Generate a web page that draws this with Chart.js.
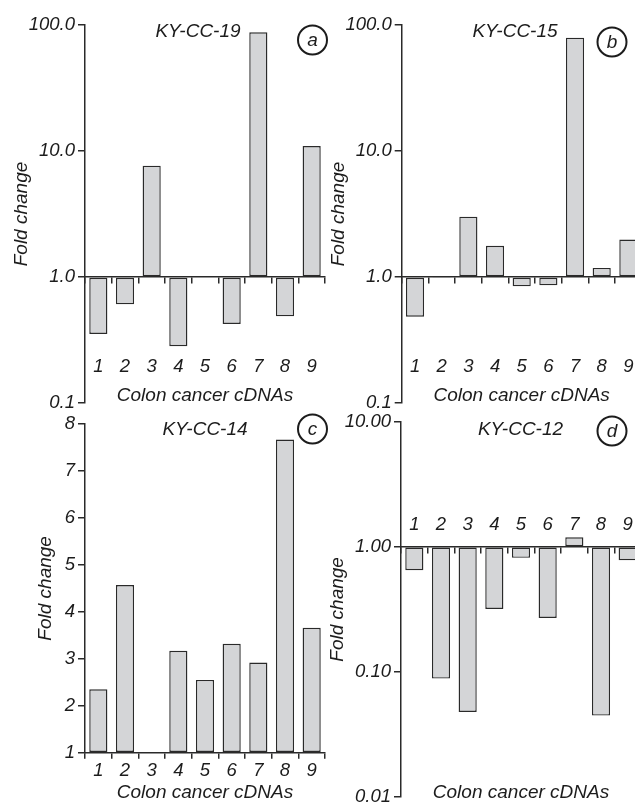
<!DOCTYPE html>
<html>
<head>
<meta charset="utf-8">
<title>Fold change in colon cancer cDNAs</title>
<script src="https://cdn.jsdelivr.net/npm/chart.js@4.4.1/dist/chart.umd.min.js"></script>
<style>
    html, body { margin: 0; padding: 0; overflow: hidden; background: #fff; }
    #wrap { position: relative; width: 635px; height: 803px; overflow: hidden; background: #fff; }
    #wrap canvas { position: absolute; }
</style>
</head>
<body>
<div id="wrap">
    <canvas id="chartA"></canvas>
    <canvas id="chartB"></canvas>
    <canvas id="chartC"></canvas>
    <canvas id="chartD"></canvas>
</div>
<script>
// ----------------- Data -----------------
const categories = ['1', '2', '3', '4', '5', '6', '7', '8', '9'];

const kyCC19 = [0.353, 0.607, 7.65, 0.282, 1.02, 0.424, 87.5, 0.487, 10.96];
const kyCC15 = [0.484, 0.99, 3.01, 1.77, 0.843, 0.859, 79.3, 1.18, 1.98];
const kyCC14 = [2.35, 4.57, null, 3.17, 2.55, 3.32, 2.92, 7.67, 3.66];
const kyCC12 = [0.65, 0.0885, 0.0478, 0.319, 0.817, 0.270, 1.19, 0.0448, 0.782];

const logTicksAB = [0.1, 1, 10, 100];
const linTicksC = [1, 2, 3, 4, 5, 6, 7, 8];
const logTicksD = [0.01, 0.1, 1, 10];

const xTitle = 'Colon cancer cDNAs';
const yTitle = 'Fold change';

// ----------------- Look -----------------
const FONT = '"Liberation Sans", Arial, sans-serif';
const INK = '#1c1c1c';
const LINE = '#2a2a2a';
const BAR_FILL = '#d4d5d7';

// draws the panel name and the circled letter inside the plot
const panelLabels = {
    id: 'panelLabels',
    afterDraw(chart, args, opts) {
        if (!opts || !opts.title) return;
        const ctx = chart.ctx;
        ctx.save();
        ctx.font = 'italic 19px ' + FONT;
        ctx.fillStyle = INK;
        ctx.strokeStyle = INK;
        ctx.textAlign = 'center';
        ctx.textBaseline = 'middle';
        ctx.fillText(opts.title, opts.titleX, opts.titleY);
        ctx.beginPath();
        ctx.lineWidth = 2;
        ctx.arc(opts.circleX, opts.circleY, 14.5, 0, Math.PI * 2);
        ctx.stroke();
        ctx.fillText(opts.letter, opts.circleX, opts.circleY + 1);
        ctx.restore();
    }
};

function makePanel(id, p) {
    const canvas = document.getElementById(id);
    canvas.width = p.box.width;
    canvas.height = p.box.height;
    canvas.style.left = p.box.left + 'px';
    canvas.style.top = p.box.top + 'px';

    const yWidth = p.area.left - p.box.left;
    const tickFont = { family: FONT, size: 18.5, style: 'italic' };
    const titleFont = { family: FONT, size: 19, style: 'italic' };

    const x = {
        type: 'category',
        offset: true,
        grid: { display: true, drawOnChartArea: false, drawTicks: true, tickLength: 6, color: LINE, lineWidth: 1.5, offset: true },
        border: { display: true, color: LINE, width: 1.5 },
        ticks: { color: INK, font: tickFont, padding: p.xLabelPad, maxRotation: 0, autoSkip: false },
        title: { display: true, text: xTitle, color: INK, font: titleFont, padding: { top: 0, bottom: p.xTitlePadBottom || 0 } }
    };
    // the label padding must not eat into the plot width
    const dropSidePadding = s => { s.paddingLeft = 0; s.paddingRight = 0; };
    if (p.xAt !== undefined) {
        // category axis drawn across the plot at y = 1
        x.position = { y: p.xAt };
        x.afterFit = s => { s.height = p.xHeight; dropSidePadding(s); };
    } else {
        x.position = 'bottom';
        x.afterFit = s => { s.height = p.box.top + p.box.height - p.area.bottom; dropSidePadding(s); };
    }

    const y = {
        type: p.logY ? 'logarithmic' : 'linear',
        min: p.yTicks[0],
        max: p.yTicks[p.yTicks.length - 1],
        position: 'left',
        grid: { display: true, drawOnChartArea: false, drawTicks: true, tickLength: 7, color: LINE, lineWidth: 1.5 },
        border: { display: true, color: LINE, width: 1.5 },
        ticks: {
            color: INK, font: tickFont, padding: 3,
            callback: v => p.yDigits ? Number(v).toFixed(p.yDigits) : String(v)
        },
        title: { display: true, text: yTitle, color: INK, font: titleFont, padding: { top: p.yTitlePad, bottom: 0 } },
        afterBuildTicks: s => { s.ticks = p.yTicks.map(v => ({ value: v })); },
        afterFit: s => { s.width = yWidth; }
    };

    const rel = (px, py) => [px - p.box.left, py - p.box.top];
    const [tx, ty] = rel(p.label.titleX, p.label.titleY);
    const [cx, cy] = rel(p.label.circleX, p.label.circleY);

    return new Chart(canvas.getContext('2d'), {
        type: 'bar',
        data: {
            labels: categories,
            datasets: [{
                label: p.label.title,
                data: p.values,
                base: 1,
                backgroundColor: BAR_FILL,
                borderColor: LINE,
                borderWidth: 1.4,
                borderSkipped: false,
                categoryPercentage: 1,
                barPercentage: 0.68
            }]
        },
        options: {
            responsive: false,
            animation: false,
            events: [],
            layout: {
                padding: {
                    left: 0,
                    top: p.area.top - p.box.top,
                    right: p.box.left + p.box.width - p.area.right,
                    bottom: p.xAt !== undefined ? p.box.top + p.box.height - p.area.bottom : 0
                }
            },
            plugins: {
                legend: { display: false },
                tooltip: { enabled: false },
                title: { display: false },
                panelLabels: { title: p.label.title, titleX: tx, titleY: ty, letter: p.label.letter, circleX: cx, circleY: cy }
            },
            scales: { x, y }
        },
        plugins: [panelLabels]
    });
}

// ----------------- Panels -----------------
makePanel('chartA', {
    box: { left: 0, top: 0, width: 330, height: 420 },
    area: { left: 85, top: 25, right: 325, bottom: 403 },
    values: kyCC19, yTicks: logTicksAB, logY: true, yDigits: 1,
    xAt: 1, xLabelPad: 73, xHeight: 130, yTitlePad: 10.6,
    label: { title: 'KY-CC-19', titleX: 198, titleY: 32, letter: 'a', circleX: 312.5, circleY: 40 }
});

makePanel('chartB', {
    box: { left: 322, top: 0, width: 330, height: 420 },
    area: { left: 401.7, top: 25, right: 641.7, bottom: 403 },
    values: kyCC15, yTicks: logTicksAB, logY: true, yDigits: 1,
    xAt: 1, xLabelPad: 73, xHeight: 130, yTitlePad: 5.6,
    label: { title: 'KY-CC-15', titleX: 515, titleY: 32, letter: 'b', circleX: 612, circleY: 42 }
});

makePanel('chartC', {
    box: { left: 0, top: 405, width: 330, height: 400 },
    area: { left: 85, top: 424, right: 325, bottom: 752.7 },
    values: kyCC14, yTicks: linTicksC, logY: false, yDigits: 0,
    xLabelPad: 0.7, xTitlePadBottom: 0.6, yTitlePad: 34.6,
    label: { title: 'KY-CC-14', titleX: 205, titleY: 430, letter: 'c', circleX: 312.5, circleY: 429 }
});

makePanel('chartD', {
    box: { left: 322, top: 405, width: 330, height: 410 },
    area: { left: 401, top: 421.7, right: 641, bottom: 797 },
    values: kyCC12, yTicks: logTicksD, logY: true, yDigits: 2,
    xAt: 1, xLabelPad: -39, xHeight: 257, yTitlePad: 4.6,
    label: { title: 'KY-CC-12', titleX: 520.5, titleY: 430, letter: 'd', circleX: 612, circleY: 431 }
});
</script>
</body>
</html>
